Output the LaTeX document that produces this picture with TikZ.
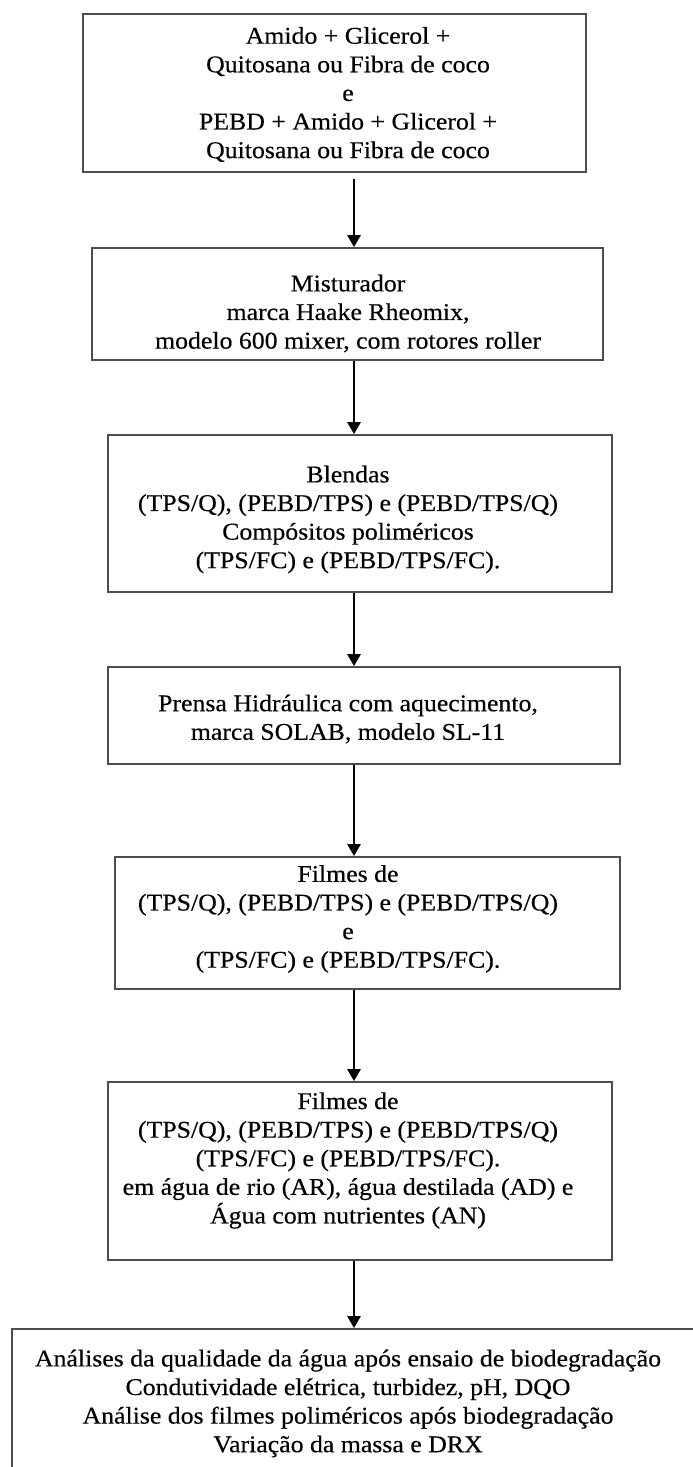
\documentclass[tikz,border=0pt]{standalone}
\usepackage{fontspec}
\setmainfont[FakeStretch=1.075,FakeBold=0.4]{Liberation Serif}
\usetikzlibrary{arrows.meta}
\definecolor{boxgray}{HTML}{4D4D4D}
\begin{document}
\begin{tikzpicture}[x=1pt,y=-1pt,
  box/.style={draw=boxgray, line width=1.7pt, rectangle, inner sep=0pt},
  txt/.style={align=center, font=\fontsize{24}{28.6}\selectfont, inner sep=0pt, text=black},
  arr/.style={line width=2.6pt, draw=black, -{Triangle[width=13pt,length=12pt]}}]
\useasboundingbox (0,0) rectangle (693,1467);
\clip (0,0) rectangle (693,1467);
\fill[white] (0,0) rectangle (693,1467);

\coordinate (ax) at (354,0);

\node[box, minimum width=503pt, minimum height=158pt] (b1) at (334.5,93) {};
\node[box, minimum width=511pt, minimum height=112pt] (b2) at (347.5,304) {};
\node[box, minimum width=504pt, minimum height=157pt] (b3) at (360,513.5) {};
\node[box, minimum width=512pt, minimum height=97pt] (b4) at (364,715.5) {};
\node[box, minimum width=505pt, minimum height=132pt] (b5) at (367.5,923) {};
\node[box, minimum width=504pt, minimum height=178pt] (b6) at (360,1171) {};
\node[box, minimum width=728pt, minimum height=191pt] (b7) at (376,1424.5) {};

\node[txt] (t1) at (348,94.5) {Amido + Glicerol +\\Quitosana ou Fibra de coco\\e\\PEBD + Amido + Glicerol +\\Quitosana ou Fibra de coco};
\node[txt] (t2) at (348,313.5) {Misturador\\marca Haake Rheomix,\\modelo 600 mixer, com rotores roller};
\node[txt] (t3) at (348,519.5) {Blendas\\(TPS/Q), (PEBD/TPS) e (PEBD/TPS/Q)\\Compósitos poliméricos\\(TPS/FC) e (PEBD/TPS/FC).};
\node[txt] (t4) at (348,719) {Prensa Hidráulica com aquecimento,\\marca SOLAB, modelo SL-11};
\node[txt] (t5) at (348,919) {Filmes de\\(TPS/Q), (PEBD/TPS) e (PEBD/TPS/Q)\\e\\(TPS/FC) e (PEBD/TPS/FC).};
\node[txt] (t6) at (348,1160.5) {Filmes de\\(TPS/Q), (PEBD/TPS) e (PEBD/TPS/Q)\\(TPS/FC) e (PEBD/TPS/FC).\\em água de rio (AR), água destilada (AD) e\\Água com nutrientes (AN)};
\node[txt] (t7) at (348,1403.5) {Análises da qualidade da água após ensaio de biodegradação\\Condutividade elétrica, turbidez, pH, DQO\\Análise dos filmes poliméricos após biodegradação\\Variação da massa e DRX};

\draw[arr, shorten <=6pt] (b1.south -| ax) -- (b2.north -| ax);
\draw[arr] (b2.south -| ax) -- (b3.north -| ax);
\draw[arr] (b3.south -| ax) -- (b4.north -| ax);
\draw[arr] (b4.south -| ax) -- (b5.north -| ax);
\draw[arr] (b5.south -| ax) -- (b6.north -| ax);
\draw[arr] (b6.south -| ax) -- (b7.north -| ax);
\end{tikzpicture}
\end{document}
